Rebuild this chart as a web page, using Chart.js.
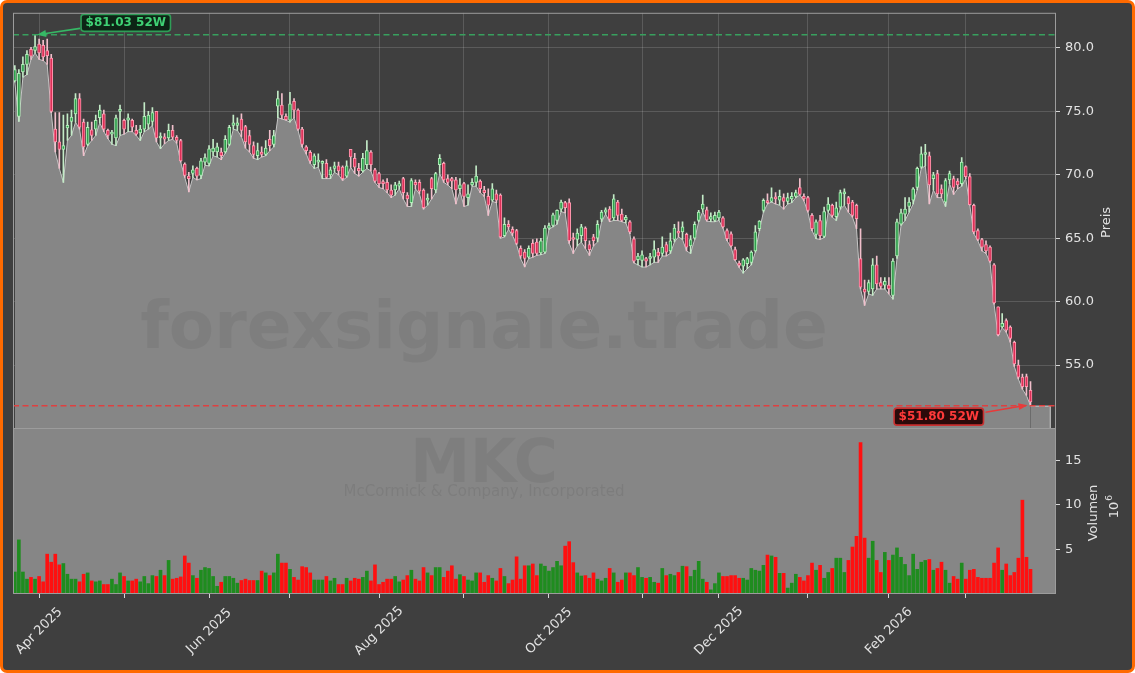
<!DOCTYPE html>
<html>
<head>
<meta charset="utf-8">
<title>MKC</title>
<script src="https://cdn.jsdelivr.net/npm/chart.js@4.4.1/dist/chart.umd.min.js"></script>
<style>
    html, body { margin: 0; padding: 0; background: #ffffff; }
    #frame {
        position: absolute; left: 0; top: 0;
        width: 1135px; height: 673px; box-sizing: border-box;
        border: 3px solid #ff6a00; border-radius: 7px;
        background: #3f3f3f;
    }
    canvas { position: absolute; left: 0; top: 0; }
</style>
</head>
<body>
<div id="frame"></div>
<canvas id="price-chart" width="1135" height="673"></canvas>
<canvas id="volume-chart" width="1135" height="673"></canvas>
<script>
/* ============================================= */
/*                    Data                       */
/* ============================================= */

// one entry per trading day, 24 Mar 2025 .. 24 Mar 2026 (index = x)
const opens = [
    77.4, 74.6, 78.1, 78.7, 79.9, 79.8, 80.3, 80.2, 79.8, 79.2,
    73.6, 72.6, 72.0, 73.7, 74.2, 74.8, 76.0, 74.15, 72.4, 73.55,
    73.6, 74.5, 74.8, 73.5, 73.2, 72.9, 75.0, 74.3, 74.3, 74.3,
    73.5, 73.3, 73.6, 74.0, 74.2, 75.0, 72.9, 73.0, 72.9, 73.5,
    72.96, 72.7, 70.85, 69.9, 70.1, 70.5, 69.95, 71.0, 70.9, 71.8,
    71.8, 71.8, 71.8, 72.4, 73.9, 73.9, 74.4, 73.8, 73.1, 72.3,
    71.5, 71.8, 71.6, 72.8, 72.4, 75.4, 75.5, 74.6, 74.3, 75.8,
    75.1, 73.6, 72.2, 71.78, 70.8, 71.0, 70.9, 70.9, 70.0, 70.5,
    70.7, 70.6, 69.9, 72.0, 71.3, 70.5, 70.3, 70.8, 71.8, 70.4,
    70.1, 69.4, 69.4, 68.8, 68.8, 69.1, 69.7, 68.4, 67.8, 69.4,
    69.4, 68.8, 68.0, 69.7, 68.8, 70.8, 70.9, 69.7, 69.7, 69.6,
    68.9, 69.3, 68.2, 69.2, 69.4, 69.5, 68.8, 68.3, 68.0, 68.5,
    68.4, 65.2, 66.1, 65.7, 65.6, 64.2, 63.9, 63.5, 64.6, 64.7,
    63.85, 63.9, 65.8, 66.0, 66.4, 67.3, 67.8, 67.8, 65.0, 64.9,
    65.2, 65.8, 64.5, 65.1, 65.0, 66.5, 67.06, 67.3, 66.6, 67.85,
    66.9, 66.45, 66.3, 64.96, 63.3, 63.25, 63.4, 63.4, 63.5, 63.9,
    63.8, 64.5, 64.0, 64.9, 65.5, 65.5, 65.3, 64.4, 65.0, 66.4,
    67.3, 67.24, 66.5, 66.4, 66.6, 66.6, 65.6, 65.35, 64.1, 63.05,
    62.8, 63.0, 63.1, 64.0, 65.75, 67.2, 67.9, 67.9, 68.2, 68.0,
    68.2, 67.9, 68.1, 68.3, 69.0, 68.3, 68.2, 66.8, 65.3, 66.4,
    65.15, 67.2, 67.6, 66.7, 67.45, 68.5, 68.2, 67.85, 67.6, 63.4,
    61.0, 60.8, 61.0, 62.9, 61.5, 61.3, 61.3, 60.5, 63.6, 66.1,
    66.9, 67.5, 68.0, 69.0, 70.6, 71.6, 71.5, 69.7, 70.1, 68.9,
    67.85, 69.6, 69.7, 69.5, 69.3, 70.65, 69.85, 67.6, 65.6, 64.9,
    64.5, 64.3, 62.9, 59.6, 58.0, 58.5, 58.0, 56.8, 55.0, 54.05,
    54.1, 53.0
];

const highs = [
    78.6, 78.3, 79.3, 79.8, 80.05, 81.03, 80.7, 80.6, 80.7, 79.5,
    74.9, 74.9, 74.7, 74.8, 75.1, 76.4, 76.4, 74.4, 74.15, 74.15,
    74.7, 75.5, 75.1, 73.6, 73.5, 74.7, 75.5, 74.4, 74.8, 74.4,
    73.9, 73.9, 75.7, 75.0, 75.3, 75.0, 73.3, 73.25, 74.0, 73.9,
    73.1, 72.8, 70.95, 70.2, 70.7, 70.6, 71.3, 71.65, 72.3, 72.8,
    72.5, 72.1, 73.1, 73.9, 74.7, 74.5, 74.8, 73.9, 73.5, 72.6,
    72.5, 72.2, 72.7, 73.5, 73.5, 76.6, 76.4, 74.8, 76.5, 76.0,
    75.2, 73.75, 72.3, 71.9, 71.65, 71.65, 71.1, 71.2, 70.6, 71.0,
    71.0, 70.7, 71.1, 72.0, 71.7, 70.9, 71.7, 72.7, 71.9, 70.5,
    70.2, 69.6, 69.7, 69.2, 69.4, 69.5, 69.8, 68.6, 69.7, 69.6,
    69.6, 68.9, 68.5, 69.8, 70.2, 71.6, 71.0, 70.0, 69.8, 69.8,
    69.7, 69.4, 69.2, 69.7, 70.7, 69.6, 69.1, 68.9, 69.3, 68.8,
    68.5, 66.6, 66.4, 65.9, 65.7, 64.4, 64.1, 64.4, 64.9, 64.96,
    65.0, 66.0, 66.2, 66.98, 67.24, 68.0, 67.9, 68.1, 65.4, 65.75,
    66.1, 65.9, 64.8, 65.3, 66.4, 67.2, 67.4, 67.5, 68.45, 67.98,
    67.3, 66.8, 66.4, 65.1, 63.8, 64.0, 63.5, 63.8, 64.8, 64.2,
    65.1, 64.7, 65.4, 66.1, 66.3, 66.3, 65.4, 65.2, 66.3, 67.2,
    68.4, 67.45, 67.0, 67.06, 67.2, 66.7, 65.75, 65.5, 64.3, 63.2,
    63.4, 63.5, 64.0, 66.0, 66.4, 68.1, 68.5, 68.97, 68.6, 68.8,
    68.5, 68.55, 68.6, 68.8, 69.7, 68.5, 68.3, 66.95, 66.45, 66.8,
    67.45, 68.2, 67.7, 67.85, 68.8, 68.9, 68.3, 67.98, 67.7, 65.75,
    61.7, 61.7, 63.4, 63.6, 61.9, 61.9, 61.9, 63.4, 66.5, 67.3,
    68.2, 68.2, 69.0, 70.6, 72.2, 72.4, 71.8, 70.2, 70.35, 69.2,
    69.7, 70.3, 69.9, 69.7, 71.35, 70.7, 70.1, 67.7, 65.75, 65.0,
    64.8, 64.4, 63.0, 59.6, 59.05, 58.65, 58.1, 56.9, 55.4, 54.3,
    54.3, 53.7
];

const lows = [
    77.3, 74.2, 77.7, 77.9, 79.1, 79.6, 79.1, 79.0, 78.7, 74.9,
    71.8, 70.5, 69.4, 72.7, 73.1, 74.15, 73.6, 71.5, 72.3, 72.7,
    73.1, 74.1, 73.4, 72.85, 72.4, 72.3, 73.1, 73.2, 73.4, 73.4,
    73.1, 72.7, 73.4, 73.6, 73.9, 72.6, 72.05, 72.45, 72.7, 72.8,
    72.5, 71.0, 69.8, 68.65, 69.8, 69.6, 69.7, 70.75, 70.7, 71.5,
    71.4, 71.2, 71.7, 72.3, 73.6, 73.5, 73.0, 72.1, 71.8, 71.3,
    71.2, 71.4, 71.5, 71.9, 72.2, 74.5, 74.4, 74.3, 74.15, 74.5,
    73.5, 72.2, 71.65, 70.9, 70.5, 70.6, 69.7, 69.7, 69.7, 70.2,
    70.0, 69.55, 69.8, 70.6, 70.1, 69.9, 70.2, 70.5, 70.3, 69.4,
    69.0, 68.9, 68.6, 68.2, 68.4, 68.9, 68.1, 67.5, 67.5, 68.9,
    68.5, 67.3, 67.6, 68.1, 68.6, 70.1, 69.4, 69.2, 68.9, 67.7,
    68.7, 67.5, 67.6, 69.1, 69.1, 68.6, 68.3, 66.8, 67.9, 67.8,
    65.0, 65.1, 65.7, 65.2, 64.5, 63.4, 62.73, 63.4, 63.5, 63.65,
    63.7, 63.8, 65.7, 65.9, 66.1, 67.1, 67.0, 64.6, 63.8, 64.4,
    64.7, 64.2, 63.65, 64.4, 64.7, 66.3, 66.9, 66.3, 66.4, 66.4,
    66.3, 66.2, 65.35, 63.05, 62.9, 62.73, 62.73, 62.9, 63.1, 63.1,
    63.6, 63.6, 63.8, 64.7, 65.1, 64.9, 64.0, 63.8, 64.9, 66.3,
    67.1, 66.35, 66.3, 66.3, 66.4, 65.8, 64.8, 64.3, 63.25, 62.7,
    62.25, 62.6, 62.9, 63.9, 65.6, 67.06, 67.7, 67.85, 67.7, 67.6,
    67.3, 67.7, 67.8, 68.2, 68.4, 67.95, 67.05, 65.6, 64.96, 64.9,
    65.05, 67.05, 66.66, 66.4, 67.3, 67.6, 67.05, 66.66, 65.75, 61.0,
    59.7, 60.6, 60.5, 61.0, 61.0, 61.0, 60.6, 60.2, 63.4, 66.0,
    66.4, 67.05, 67.7, 68.8, 70.5, 70.7, 67.7, 68.8, 68.2, 68.2,
    67.5, 69.3, 68.45, 68.9, 69.1, 69.7, 67.6, 65.35, 64.8, 64.0,
    63.8, 63.1, 59.8, 57.3, 57.95, 57.6, 56.8, 54.9, 53.9, 53.1,
    52.6, 51.8
];

const closes = [
    78.3, 78.0, 78.7, 79.5, 79.35, 80.1, 79.6, 79.3, 79.4, 75.0,
    72.6, 72.0, 72.3, 73.9, 74.55, 76.0, 73.75, 72.2, 73.75, 73.1,
    74.3, 75.1, 73.6, 73.1, 73.3, 74.5, 75.1, 73.6, 74.5, 73.75,
    73.2, 73.6, 74.6, 74.7, 74.9, 72.9, 73.0, 72.8, 73.5, 72.96,
    72.7, 71.1, 69.95, 69.7, 70.4, 69.9, 71.1, 71.35, 72.05, 72.1,
    72.2, 71.5, 72.8, 73.75, 74.1, 74.1, 73.5, 72.6, 72.4, 71.6,
    71.9, 71.6, 72.1, 72.3, 73.1, 76.0, 74.7, 74.35, 75.6, 75.1,
    73.6, 72.4, 71.9, 71.1, 71.5, 71.1, 71.0, 69.8, 70.4, 70.7,
    70.3, 69.7, 70.7, 71.4, 70.6, 70.3, 71.3, 71.9, 70.8, 69.5,
    69.3, 69.3, 68.8, 68.4, 69.2, 69.3, 68.6, 68.1, 69.55, 69.2,
    68.7, 67.4, 68.1, 68.9, 70.1, 71.3, 69.6, 69.4, 69.5, 68.8,
    69.2, 68.3, 68.5, 69.4, 69.9, 68.9, 68.6, 67.6, 68.9, 68.0,
    65.1, 66.1, 65.9, 65.4, 64.6, 63.6, 63.4, 64.2, 63.8, 63.8,
    64.8, 65.8, 66.0, 66.85, 67.2, 67.85, 67.4, 64.8, 64.9, 65.4,
    65.9, 64.8, 64.1, 64.8, 66.1, 67.06, 67.24, 66.5, 68.1, 66.8,
    66.4, 66.65, 65.5, 63.2, 63.6, 63.7, 63.2, 63.5, 64.1, 63.6,
    64.3, 63.9, 64.8, 65.8, 65.4, 65.9, 64.3, 64.9, 66.1, 67.06,
    67.7, 66.45, 66.7, 66.8, 67.06, 65.9, 64.96, 64.4, 63.3, 62.85,
    63.3, 63.4, 63.9, 65.5, 66.35, 67.98, 67.8, 68.2, 68.1, 68.3,
    67.9, 68.2, 68.3, 68.6, 68.45, 68.1, 67.2, 65.75, 66.3, 65.2,
    67.1, 67.7, 66.8, 67.4, 68.6, 68.6, 67.7, 66.8, 66.55, 61.15,
    60.75, 61.5, 62.9, 61.4, 61.2, 61.6, 61.0, 63.2, 66.3, 67.0,
    67.3, 67.85, 68.9, 70.5, 71.65, 71.7, 69.2, 70.0, 68.5, 68.5,
    69.55, 70.1, 69.0, 69.2, 71.0, 69.85, 67.65, 65.5, 64.9, 64.3,
    64.0, 63.2, 59.9, 57.4, 58.3, 57.75, 57.1, 55.1, 54.05, 53.3,
    53.3, 52.1
];

// volume in millions of shares
const volumes = [
    2.5, 6.1, 2.5, 1.7, 1.9, 1.7, 2.0, 1.4, 4.5, 3.6,
    4.5, 3.3, 3.45, 2.25, 1.7, 1.7, 1.4, 2.25, 2.4, 1.5,
    1.4, 1.5, 1.1, 1.1, 1.7, 1.1, 2.4, 2.0, 1.5, 1.5,
    1.7, 1.4, 2.0, 1.2, 2.1, 2.0, 2.7, 2.1, 3.8, 1.7,
    1.8, 1.95, 4.3, 3.5, 2.1, 1.8, 2.7, 3.0, 2.9, 2.0,
    0.9, 1.35, 2.0, 2.0, 1.8, 1.25, 1.55, 1.7, 1.55, 1.55,
    1.55, 2.6, 2.4, 2.1, 2.4, 4.5, 3.5, 3.5, 2.8, 1.9,
    1.6, 3.1, 3.0, 2.4, 1.6, 1.6, 1.6, 2.0, 1.5, 1.8,
    1.1, 1.1, 1.8, 1.5, 1.8, 1.7, 1.9, 2.6, 1.5, 3.3,
    1.1, 1.35, 1.7, 1.7, 2.0, 1.4, 1.6, 2.1, 2.7, 1.7,
    1.5, 3.0, 2.4, 2.1, 3.0, 3.0, 1.9, 2.6, 3.2, 1.7,
    2.2, 2.0, 1.6, 1.5, 2.4, 2.4, 1.35, 2.1, 1.8, 1.5,
    2.9, 2.0, 1.2, 1.6, 4.2, 1.7, 3.2, 3.2, 3.4, 2.1,
    3.4, 3.15, 2.6, 3.0, 3.7, 3.2, 5.4, 5.9, 3.55, 2.4,
    2.05, 2.1, 1.8, 2.4, 1.7, 1.5, 1.8, 2.9, 2.4, 1.35,
    1.6, 2.4, 2.4, 2.1, 3.0, 1.9, 1.8, 1.9, 1.35, 1.25,
    2.9, 2.1, 2.25, 2.1, 2.45, 3.15, 3.1, 2.0, 2.7, 3.7,
    1.7, 1.35, 0.5, 1.2, 2.4, 2.0, 2.0, 2.1, 2.1, 1.8,
    1.8, 1.6, 2.9, 2.7, 2.6, 3.25, 4.4, 4.3, 4.15, 2.35,
    2.35, 0.7, 1.25, 2.25, 1.9, 1.5, 2.1, 3.5, 2.7, 3.25,
    1.8, 2.45, 2.9, 4.05, 4.05, 2.45, 3.8, 5.3, 6.5, 17.0,
    6.3, 4.05, 5.95, 3.8, 2.45, 4.7, 3.8, 4.4, 5.2, 4.15,
    3.35, 2.1, 4.5, 2.8, 3.6, 3.8, 3.9, 2.7, 2.9, 3.6,
    2.7, 1.25, 2.0, 1.7, 3.5, 1.7, 2.7, 2.8, 1.9, 1.8,
    1.8, 1.8, 3.5, 5.2, 2.7, 3.4, 2.1, 2.45, 4.05, 10.55,
    4.15, 2.8
];

// first trading day of each month (index into the arrays above)
const monthIdx = [6, 27, 48, 68, 90, 111, 132, 155, 174, 196, 216, 235];
const monthLabels = ['Apr 2025', '', 'Jun 2025', '', 'Aug 2025', '', 'Oct 2025', '', 'Dec 2025', '', 'Feb 2026', ''];

const priceTicks = [55, 60, 65, 70, 75, 80];
const volumeTicks = [5, 10, 15];

const ticker = 'MKC';
const companyName = 'McCormick & Company, Incorporated';
const watermark = 'forexsignale.trade';


/* ============================================= */
/*                   Styles                      */
/* ============================================= */

const xMin = -0.45;
const xMax = 257.3;

const tickFont = { family: 'DejaVu Sans', size: 13 };
const textColor = '#e2e2e2';
const gridColor = 'rgba(255, 255, 255, 0.15)';
const frameColor = '#9c9c9c';
const panelGray = '#868686';

const upBody = '#2f9e4c';
const upEdge = '#b2eeb9';
const upWick = '#c3ebc7';
const downBody = '#dc2f57';
const downEdge = '#ff97ae';
const downWick = '#f1bfcb';

const volUp = '#1f8c1f';
const volDown = '#ff1010';

const isUp = i => closes[i] >= opens[i];

const monthTicks = s => { s.ticks = monthIdx.map(v => ({ value: v })); };


/* ============================================= */
/*                   Helpers                     */
/* ============================================= */

function drawArrow(ctx, x1, y1, x2, y2, color) {
    const a = Math.atan2(y2 - y1, x2 - x1);
    ctx.save();
    ctx.strokeStyle = color;
    ctx.fillStyle = color;
    ctx.lineWidth = 1.6;
    ctx.beginPath();
    ctx.moveTo(x1, y1);
    ctx.lineTo(x2 - 7 * Math.cos(a), y2 - 7 * Math.sin(a));
    ctx.stroke();
    ctx.beginPath();
    ctx.moveTo(x2, y2);
    ctx.lineTo(x2 - 9 * Math.cos(a) + 3.5 * Math.sin(a), y2 - 9 * Math.sin(a) - 3.5 * Math.cos(a));
    ctx.lineTo(x2 - 9 * Math.cos(a) - 3.5 * Math.sin(a), y2 - 9 * Math.sin(a) + 3.5 * Math.cos(a));
    ctx.closePath();
    ctx.fill();
    ctx.restore();
}

function drawTag(ctx, text, left, top, fill, stroke, color) {
    ctx.save();
    ctx.font = 'bold 12px "DejaVu Sans"';
    const w = ctx.measureText(text).width + 9;
    const h = 17;
    ctx.beginPath();
    ctx.roundRect(left, top, w, h, 3);
    ctx.fillStyle = fill;
    ctx.fill();
    ctx.lineWidth = 1.6;
    ctx.strokeStyle = stroke;
    ctx.stroke();
    ctx.fillStyle = color;
    ctx.textAlign = 'center';
    ctx.textBaseline = 'middle';
    ctx.fillText(text, left + w / 2, top + h / 2 + 0.5);
    ctx.restore();
    return w;
}

function hLine(ctx, area, y, color) {
    ctx.save();
    ctx.strokeStyle = color;
    ctx.lineWidth = 1.5;
    ctx.setLineDash([6, 3.5]);
    ctx.beginPath();
    ctx.moveTo(area.left, y);
    ctx.lineTo(area.right, y);
    ctx.stroke();
    ctx.restore();
}


/* ============================================= */
/*                 Price Chart                   */
/* ============================================= */

const priceDecor = {
    id: 'priceDecor',
    beforeDatasetsDraw(chart) {
        // the shaded area runs on a few sessions past the last candle
        const ctx = chart.ctx;
        const xs = chart.scales.x;
        const ys = chart.scales.y;
        const last = lows.length - 1;
        const x0 = xs.getPixelForValue(last);
        const x1 = xs.getPixelForValue(last + 5);
        const y0 = ys.getPixelForValue(lows[last]);
        ctx.save();
        ctx.fillStyle = panelGray;
        ctx.fillRect(x0, y0, x1 - x0, chart.chartArea.bottom - y0);
        ctx.strokeStyle = '#c6c6c6';
        ctx.lineWidth = 1;
        ctx.beginPath();
        ctx.moveTo(x0, y0 + 0.5);
        ctx.lineTo(x1 - 0.5, y0 + 0.5);
        ctx.lineTo(x1 - 0.5, chart.chartArea.bottom);
        ctx.stroke();
        ctx.restore();
    },
    afterDatasetsDraw(chart) {
        const ctx = chart.ctx;
        const area = chart.chartArea;
        const xs = chart.scales.x;
        const ys = chart.scales.y;

        // watermark
        ctx.save();
        ctx.fillStyle = 'rgba(0, 0, 0, 0.06)';
        ctx.font = 'bold 66px "DejaVu Sans"';
        ctx.textAlign = 'center';
        ctx.textBaseline = 'alphabetic';
        ctx.fillText(watermark, 484, 348);
        ctx.restore();

        // 52 week high / low
        const hiVal = Math.max(...highs);
        const loVal = Math.min(...lows);
        const hiIdx = highs.indexOf(hiVal);
        const loIdx = lows.indexOf(loVal);
        const hx = xs.getPixelForValue(hiIdx), hy = ys.getPixelForValue(hiVal);
        const lx = xs.getPixelForValue(loIdx), ly = ys.getPixelForValue(loVal);

        hLine(ctx, area, hy, '#38a05e');
        hLine(ctx, area, ly, '#de4040');

        const hiLeft = hx + 46;
        const hiTop = hy - 20.5;
        drawTag(ctx, '$' + hiVal.toFixed(2) + ' 52W', hiLeft, hiTop, '#0d2415', '#2f9e57', '#3fd174');
        drawArrow(ctx, hiLeft - 1, hiTop + 14, hx + 2, hy, '#36b865');

        ctx.save();
        ctx.font = 'bold 12px "DejaVu Sans"';
        const loW = ctx.measureText('$' + loVal.toFixed(2) + ' 52W').width + 9;
        ctx.restore();
        const loLeft = lx - 47 - loW;
        const loTop = ly + 2.5;
        drawTag(ctx, '$' + loVal.toFixed(2) + ' 52W', loLeft, loTop, '#2b0a0a', '#c83030', '#ff3a3a');
        drawArrow(ctx, loLeft + loW + 2, loTop + 4, lx - 3, ly - 0.5, '#e83a3a');

        // frame
        ctx.save();
        ctx.strokeStyle = frameColor;
        ctx.lineWidth = 1;
        ctx.strokeRect(area.left + 0.5, area.top + 0.5, area.right - area.left - 1, area.bottom - area.top);
        ctx.restore();

        // axis title
        ctx.save();
        ctx.fillStyle = textColor;
        ctx.font = '13px "DejaVu Sans"';
        ctx.textAlign = 'center';
        ctx.textBaseline = 'middle';
        ctx.translate(1107, (area.top + area.bottom) / 2 + 2);
        ctx.rotate(-Math.PI / 2);
        ctx.fillText('Preis', 0, 0);
        ctx.restore();
    }
};

const priceCanvas = document.getElementById('price-chart');

let priceChart = new Chart(priceCanvas, {
    type: 'bar',
    data: {
        datasets: [{
            type: 'line',
            data: lows.map((v, i) => ({ x: i, y: v })),
            order: 3,
            fill: 'start',
            backgroundColor: panelGray,
            borderColor: '#c6c6c6',
            borderWidth: 1,
            pointRadius: 0,
            tension: 0
        }, {
            data: lows.map((v, i) => ({ x: i, y: [v, highs[i]] })),
            order: 2,
            grouped: false,
            barThickness: 1,
            minBarLength: 1,
            borderWidth: 0,
            backgroundColor: ctx => isUp(ctx.dataIndex) ? upWick : downWick
        }, {
            data: opens.map((v, i) => ({ x: i, y: [v, closes[i]] })),
            order: 1,
            grouped: false,
            barThickness: 3,
            minBarLength: 2,
            borderWidth: 1,
            borderSkipped: false,
            backgroundColor: ctx => isUp(ctx.dataIndex) ? upBody : downBody,
            borderColor: ctx => isUp(ctx.dataIndex) ? upEdge : downEdge
        }]
    },
    options: {
        responsive: false,
        animation: false,
        layout: { padding: { left: 13, top: 12, right: 0, bottom: 245 } },
        plugins: {
            legend: { display: false },
            tooltip: { enabled: false }
        },
        scales: {
            x: {
                type: 'linear',
                min: xMin,
                max: xMax,
                offset: false,
                grid: { color: gridColor, offset: false, drawTicks: false },
                border: { display: false },
                ticks: { display: false },
                afterBuildTicks: monthTicks,
                afterFit: s => { s.height = 0; }
            },
            y: {
                position: 'right',
                min: 50.04,
                max: 82.77,
                grid: { color: gridColor, tickColor: '#d8d8d8', tickLength: 4 },
                border: { display: false },
                ticks: { color: textColor, font: tickFont, padding: 5, callback: v => v.toFixed(1) },
                afterBuildTicks: s => { s.ticks = priceTicks.map(v => ({ value: v })); },
                afterFit: s => { s.width = 79; }
            }
        }
    },
    plugins: [priceDecor]
});


/* ============================================= */
/*                 Volume Chart                  */
/* ============================================= */

const volumeDecor = {
    id: 'volumeDecor',
    beforeDatasetsDraw(chart) {
        const ctx = chart.ctx;
        const area = chart.chartArea;
        ctx.save();
        ctx.fillStyle = panelGray;
        ctx.fillRect(area.left, area.top, area.right - area.left, area.bottom - area.top);

        ctx.fillStyle = 'rgba(0, 0, 0, 0.06)';
        ctx.textAlign = 'center';
        ctx.textBaseline = 'alphabetic';
        ctx.font = 'bold 60px "DejaVu Sans"';
        ctx.fillText(ticker, 484, 482);
        ctx.fillStyle = 'rgba(0, 0, 0, 0.07)';
        ctx.font = '15px "DejaVu Sans"';
        ctx.fillText(companyName, 484, 496);
        ctx.restore();
    },
    afterDatasetsDraw(chart) {
        const ctx = chart.ctx;
        const area = chart.chartArea;
        const xs = chart.scales.x;

        ctx.save();
        ctx.strokeStyle = frameColor;
        ctx.lineWidth = 1;
        ctx.strokeRect(area.left + 0.5, area.top + 0.5, area.right - area.left - 1, area.bottom - area.top - 1);
        ctx.restore();

        // month labels, rotated 45 degrees and centred on the tick
        ctx.save();
        ctx.fillStyle = textColor;
        ctx.font = '13px "DejaVu Sans"';
        ctx.textAlign = 'center';
        ctx.textBaseline = 'middle';
        monthIdx.forEach((v, k) => {
            if (!monthLabels[k]) return;
            ctx.save();
            ctx.translate(xs.getPixelForValue(v), area.bottom + 37);
            ctx.rotate(-Math.PI / 4);
            ctx.fillText(monthLabels[k], 0, 0);
            ctx.restore();
        });
        ctx.restore();

        // axis title with the 10^6 multiplier
        const midY = (area.top + area.bottom) / 2;
        ctx.save();
        ctx.fillStyle = textColor;
        ctx.font = '13px "DejaVu Sans"';
        ctx.textAlign = 'center';
        ctx.textBaseline = 'middle';
        ctx.translate(1093.5, midY + 2);
        ctx.rotate(-Math.PI / 2);
        ctx.fillText('Volumen', 0, 0);
        ctx.restore();

        ctx.save();
        ctx.fillStyle = textColor;
        ctx.translate(1118, midY - 4);
        ctx.rotate(-Math.PI / 2);
        ctx.textBaseline = 'alphabetic';
        ctx.font = '13px "DejaVu Sans"';
        const w10 = ctx.measureText('10').width;
        ctx.textAlign = 'left';
        ctx.fillText('10', -w10 / 2 - 3, 0);
        ctx.font = '9px "DejaVu Sans"';
        ctx.fillText('6', w10 / 2 - 2, -6);
        ctx.restore();
    }
};

const volumeCanvas = document.getElementById('volume-chart');

let volumeChart = new Chart(volumeCanvas, {
    type: 'bar',
    data: {
        datasets: [{
            data: volumes.map((v, i) => ({ x: i, y: v })),
            barPercentage: 0.9,
            categoryPercentage: 1,
            borderWidth: 0,
            backgroundColor: ctx => isUp(ctx.dataIndex) ? volUp : volDown
        }]
    },
    options: {
        responsive: false,
        animation: false,
        layout: { padding: { left: 13, top: 428, right: 0, bottom: 0 } },
        plugins: {
            legend: { display: false },
            tooltip: { enabled: false }
        },
        scales: {
            x: {
                type: 'linear',
                min: xMin,
                max: xMax,
                offset: false,
                grid: { drawOnChartArea: false, offset: false, tickColor: '#d8d8d8', tickLength: 4 },
                border: { display: false },
                ticks: { display: false },
                afterBuildTicks: monthTicks,
                afterFit: s => { s.height = 79; }
            },
            y: {
                position: 'right',
                min: 0,
                max: 18.6,
                grid: { drawOnChartArea: false, tickColor: '#d8d8d8', tickLength: 4 },
                border: { display: false },
                ticks: { color: textColor, font: tickFont, padding: 5 },
                afterBuildTicks: s => { s.ticks = volumeTicks.map(v => ({ value: v })); },
                afterFit: s => { s.width = 79; }
            }
        }
    },
    plugins: [volumeDecor]
});
</script>
</body>
</html>
